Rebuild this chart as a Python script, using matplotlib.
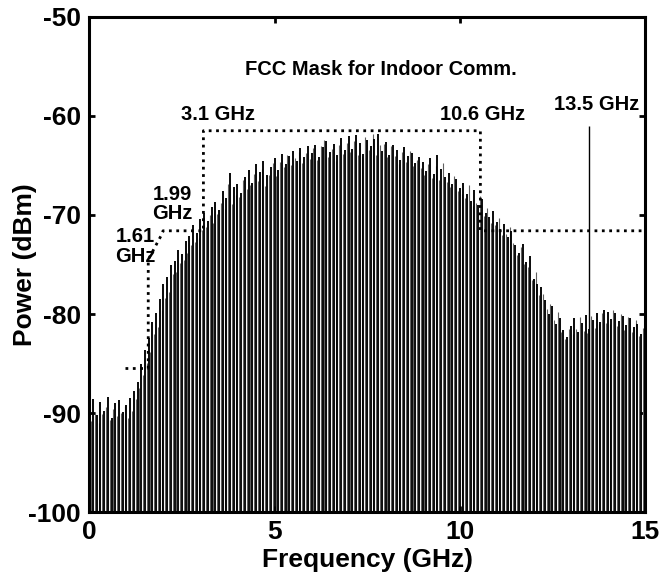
import matplotlib
matplotlib.use('Agg')
import matplotlib.pyplot as plt

plt.rcParams['font.family'] = ['Liberation Sans', 'DejaVu Sans']
plt.rcParams['font.weight'] = 'bold'
plt.rcParams['axes.unicode_minus'] = False

# Linhas espectrais principais (GHz) e picos (dBm)
freq_ghz = [round(0.1 * i, 2) for i in range(150)]
pico_dbm = [
    -89.5, -88.6, -90.2, -88.9, -89.8, -88.4, -90.5, -89.0, -88.7, -89.9,
    -89.2, -88.5, -87.8, -86.9, -85.0, -83.6, -82.4, -80.8, -79.9, -78.5,
    -77.0, -76.3, -75.1, -74.6, -73.5, -73.9, -72.6, -72.1, -71.0, -71.8,
    -70.4, -69.8, -70.6, -69.2, -68.7, -69.5, -67.6, -68.3, -65.8, -67.2,
    -66.9, -67.8, -66.2, -65.5, -66.8, -64.9, -65.7, -64.6, -66.0, -65.2,
    -64.3, -65.5, -63.8, -64.9, -64.0, -63.5, -64.6, -63.2, -64.1, -63.0,
    -63.7, -62.9, -64.2, -63.1, -62.5, -63.6, -62.8, -63.9, -62.2, -63.4,
    -62.0, -63.3, -61.9, -62.7, -63.8, -62.4, -63.0, -62.3, -61.8, -63.5,
    -62.6, -63.9, -62.9, -63.4, -64.5, -63.1, -64.0, -63.7, -64.8, -64.1,
    -64.7, -65.6, -64.3, -65.9, -63.9, -65.4, -66.2, -65.8, -66.9, -66.4,
    -67.3, -66.8, -67.9, -68.6, -67.5, -69.0, -68.4, -69.8, -70.2, -69.6,
    -70.7, -71.4, -70.9, -72.2, -71.6, -73.0, -73.8, -72.9, -74.7, -74.1,
    -76.5, -77.0, -77.3, -78.6, -80.0, -79.2, -81.0, -80.4, -81.6, -82.3,
    -81.2, -80.4, -81.8, -80.9, -80.1, -81.5, -80.6, -79.9, -80.8, -79.6,
    -79.8, -80.5, -79.9, -80.7, -80.2, -81.1, -80.4, -81.3, -81.0, -82.0,
]

# Linhas intermediárias (cinza), a meio caminho entre as principais
freq_meio_ghz = [round(0.1 * i + 0.05, 2) for i in range(150)]
pico_meio_dbm = [
    -90.8, -89.9, -91.0, -90.1, -89.4, -90.7, -89.6, -90.3, -90.0, -89.3,
    -90.5, -89.8, -88.6, -87.5, -86.2, -84.9, -83.8, -82.0, -81.3, -79.6,
    -78.4, -77.8, -76.0, -75.8, -74.9, -74.5, -73.8, -73.0, -72.7, -72.3,
    -71.5, -71.2, -70.0, -70.8, -69.9, -68.8, -69.4, -66.9, -68.9, -68.0,
    -68.2, -66.5, -67.4, -67.0, -65.9, -66.6, -65.4, -67.1, -66.0, -64.8,
    -66.1, -64.7, -65.2, -63.9, -65.0, -64.3, -63.6, -64.8, -63.7, -64.4,
    -63.2, -64.5, -63.0, -62.4, -64.1, -63.3, -64.6, -62.9, -63.8, -62.7,
    -63.6, -62.5, -63.9, -64.0, -62.1, -63.4, -61.8, -63.9, -62.9, -62.8,
    -64.2, -63.0, -64.0, -64.9, -63.6, -64.7, -63.5, -65.1, -64.5, -65.3,
    -66.0, -64.9, -66.3, -65.1, -66.5, -64.8, -66.7, -67.2, -66.1, -67.6,
    -67.9, -68.3, -67.0, -69.1, -68.8, -68.1, -70.1, -69.3, -70.8, -71.0,
    -70.3, -72.0, -71.9, -71.2, -72.8, -74.0, -73.2, -75.0, -75.3, -76.6,
    -75.8, -78.1, -78.0, -79.5, -79.0, -80.6, -79.8, -81.8, -82.5, -81.5,
    -82.0, -81.5, -80.3, -81.7, -81.9, -80.2, -81.4, -81.0, -79.9, -80.9,
    -81.0, -79.6, -81.2, -80.0, -81.6, -80.3, -81.8, -80.6, -82.2, -81.4,
]

# Máscara FCC (pontilhada)
mascara_f = [1.59, 1.59, 1.95, 1.99, 3.08, 3.08, 10.56, 10.56, 15.0]
mascara_p = [-85.5, -74.5, -72.0, -71.6, -71.6, -61.5, -61.5, -71.6, -71.6]
mascara_baixa_f = [0.95, 1.59]
mascara_baixa_p = [-85.5, -85.5]

linha_13_5 = 13.5
piso = -100

fig = plt.figure(figsize=(6.62, 5.8), dpi=100)
ax = fig.add_axes([0.135, 0.117, 0.839, 0.854])

ax.vlines(freq_meio_ghz, piso, pico_meio_dbm, colors='#606060', linewidth=0.8)
ax.vlines(freq_ghz, piso, pico_dbm, colors='black', linewidth=1.35)

ax.plot(mascara_f, mascara_p, color='black', linestyle=':', linewidth=2)
ax.plot(mascara_baixa_f, mascara_baixa_p, color='black', linestyle=':', linewidth=2)
ax.vlines(linha_13_5, piso, -61.0, colors='black', linewidth=1.0)

ax.text(7.87, -55.35, 'FCC Mask for Indoor Comm.', fontsize=14.5, ha='center', va='center')
ax.text(3.47, -59.9, '3.1 GHz', fontsize=14.5, ha='center', va='center')
ax.text(10.61, -59.85, '10.6 GHz', fontsize=14.5, ha='center', va='center')
ax.text(13.7, -58.9, '13.5 GHz', fontsize=14.5, ha='center', va='center')
ax.text(2.24, -68.9, '1.99\nGHz', fontsize=14.5, ha='center', va='center', linespacing=1.05)
ax.text(1.23, -73.2, '1.61\nGHz', fontsize=14.5, ha='center', va='center', linespacing=1.05)

ax.set_xlim(0, 15)
ax.set_ylim(-100, -50)
ax.set_xticks([0, 5, 10, 15])
ax.set_yticks([-100, -90, -80, -70, -60, -50])
ax.tick_params(direction='in', top=True, right=True, length=4, width=2,
               labelsize=19, pad=6)
for s in ax.spines.values():
    s.set_linewidth(2.2)

ax.set_xlabel('Frequency (GHz)', fontsize=19, fontweight='bold')
ax.set_ylabel('Power (dBm)', fontsize=19, fontweight='bold')
ax.xaxis.set_label_coords(0.5, -0.073)
ax.yaxis.set_label_coords(-0.095, 0.5)

fig.savefig('out.png', dpi=100)
